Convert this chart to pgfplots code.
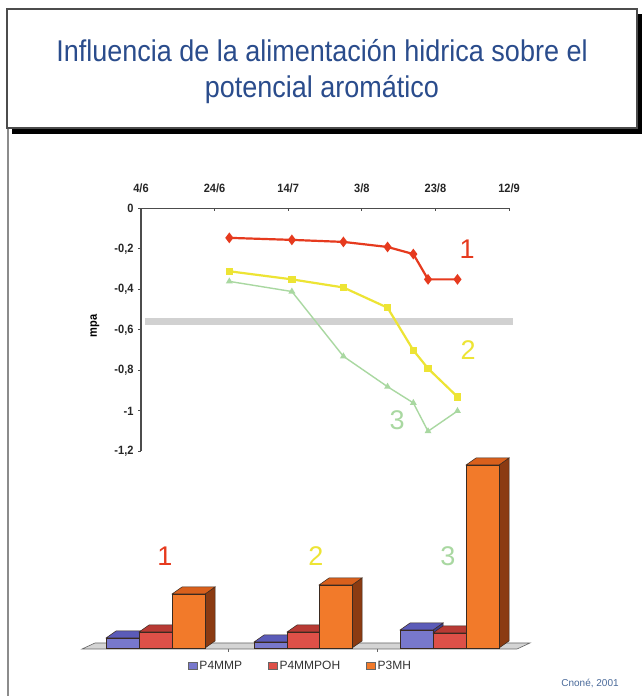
\documentclass[border=0pt]{standalone}
\usepackage{fontspec}
\setmainfont{Liberation Sans}
\newfontfamily\titlefont{Liberation Sans}[FakeStretch=0.9]
\newfontfamily\tickfont{Liberation Sans}[FakeStretch=0.92]
\usepackage{pgfplots}
\pgfplotsset{compat=1.18}
\definecolor{titleblue}{HTML}{2A4C8C}
\definecolor{cred}{HTML}{E63A1E}
\definecolor{cyel}{HTML}{EDE434}
\definecolor{cgreen}{HTML}{A9D8A1}
\definecolor{bluef}{HTML}{7878CC}
\definecolor{bluet}{HTML}{5B5BB8}
\definecolor{blues}{HTML}{3E3E90}
\definecolor{redf}{HTML}{DE5048}
\definecolor{redt}{HTML}{B83A34}
\definecolor{reds}{HTML}{8A2420}
\definecolor{oraf}{HTML}{F27A2A}
\definecolor{orat}{HTML}{D9601C}
\definecolor{oras}{HTML}{8B3B12}
\definecolor{barline}{HTML}{3A2A20}
\definecolor{floorc}{HTML}{D4D4D4}
\definecolor{srcblue}{HTML}{4A6A9A}
\newcommand\tdbar[5]{%
 \pgfmathsetmacro\xa{#1}%
 \pgfmathsetmacro\xb{#1+33}%
 \pgfmathsetmacro\xc{#1+43}%
 \pgfmathsetmacro\xd{#1+10}%
 \pgfmathsetmacro\yt{#2+7}%
 \edef\tmp{%
 \noexpand\addplot[forget plot, fill=#5, draw=barline, line width=0.5pt] coordinates {(\xb,0) (\xc,7) (\xc,\yt) (\xb,#2)} -- cycle;%
 \noexpand\addplot[forget plot, fill=#4, draw=barline, line width=0.5pt] coordinates {(\xa,#2) (\xb,#2) (\xc,\yt) (\xd,\yt)} -- cycle;%
 \noexpand\addplot[forget plot, fill=#3, draw=barline, line width=0.5pt] coordinates {(\xa,0) (\xb,0) (\xb,#2) (\xa,#2)} -- cycle;%
 }\tmp}
\begin{document}
\begin{tikzpicture}[x=1pt,y=1pt]
\useasboundingbox (0,0) rectangle (642,696);
\fill[white] (0,0) rectangle (642,696);
\draw[black!45, line width=1.2pt] (8,0) -- (8,568);
% title box
\fill[black] (12,562) rectangle (642,682);
\filldraw[fill=white, draw=black!70, line width=1.5pt] (7,568) rectangle (637,687);
\node[anchor=base, titleblue, font=\titlefont\fontsize{30}{36}\selectfont] at (322,634) {Influencia de la alimentación hidrica sobre el};
\node[anchor=base, titleblue, font=\titlefont\fontsize{30}{36}\selectfont] at (322,598) {potencial aromático};

% line chart
\begin{axis}[at={(141pt,244.5pt)}, anchor=south west, scale only axis,
  width=368pt, height=243pt,
  xmin=0, xmax=100, ymin=-1.2, ymax=0,
  axis x line=top, axis y line=left,
  axis line style={-, black!70, line width=1.2pt},
  tick align=inside, major tick length=3pt,
  tick style={black!70, line width=1pt},
  ytick style={xshift=-3pt},
  xtick={0,20,40,60,80,100},
  xticklabels={4/6,24/6,14/7,3/8,23/8,12/9},
  ytick={-1.2,-1,-0.8,-0.6,-0.4,-0.2,0},
  yticklabels={{-1,2},{-1},{-0,8},{-0,6},{-0,4},{-0,2},{0}},
  ticklabel style={font=\tickfont\bfseries\fontsize{12}{13}\selectfont, black!85},
  xticklabel style={yshift=12pt},
  yticklabel style={xshift=-4pt},
  ylabel={mpa},
  ylabel style={at={(axis description cs:-0.125,0.516)}, anchor=center, font=\tickfont\bfseries\fontsize{12}{13}\selectfont},
  clip=false]
\addplot[forget plot, black!18, line width=7pt] coordinates {(1,-0.556) (101,-0.556)};
\addplot[cgreen, line width=1.4pt, mark=triangle*, mark size=2.6pt] coordinates {
 (24,-0.36) (41,-0.41) (55,-0.73) (67,-0.88) (74,-0.96) (78,-1.10) (86,-1.00)};
\addplot[cyel, line width=2.2pt, mark=square*, mark size=2.6pt] coordinates {
 (24,-0.31) (41,-0.35) (55,-0.39) (67,-0.49) (74,-0.70) (78,-0.79) (86,-0.93)};
\addplot[cred, line width=2.2pt, mark=diamond*, mark size=3.6pt] coordinates {
 (24,-0.145) (41,-0.155) (55,-0.165) (67,-0.19) (74,-0.225) (78,-0.35) (86,-0.35)};
\node[cred, font=\fontsize{27}{30}\selectfont] at (axis cs:88.6,-0.2) {1};
\node[cyel, font=\fontsize{27}{30}\selectfont] at (axis cs:88.9,-0.70) {2};
\node[cgreen, font=\fontsize{27}{30}\selectfont] at (axis cs:69.6,-1.044) {3};
\end{axis}

% 3D bar chart
\begin{axis}[at={(0pt,48pt)}, anchor=origin, x=1pt, y=1pt,
  xmin=0, xmax=642, ymin=-50, ymax=200, hide axis, clip=false,
  legend columns=3,
  legend style={at={(axis description cs:0.288,0.128)}, anchor=west, draw=none, fill=none,
    font=\fontsize{12}{14}\selectfont, text=black!80,
    /tikz/every even column/.append style={column sep=24pt}},
  legend image code/.code={\draw[#1, draw=black!60] (0pt,-3.5pt) rectangle (9pt,3.5pt);}]
\addlegendimage{fill=bluef}
\addlegendentry{P4MMP}
\addlegendimage{fill=redf}
\addlegendentry{P4MMPOH}
\addlegendimage{fill=oraf}
\addlegendentry{P3MH}
\addplot[forget plot, fill=floorc, draw=black!60, line width=0.6pt] coordinates {(82,-1) (517,-1) (530,5) (95,5)} -- cycle;
\draw[black!60, line width=0.6pt] (axis cs:228,-1) -- (axis cs:228,-4);
\draw[black!60, line width=0.6pt] (axis cs:377,-1) -- (axis cs:377,-4);
% group 1
\tdbar{106}{10}{bluef}{bluet}{blues}
\tdbar{139}{16}{redf}{redt}{reds}
\tdbar{172}{54}{oraf}{orat}{oras}
% group 2
\tdbar{254}{6}{bluef}{bluet}{blues}
\tdbar{287}{16}{redf}{redt}{reds}
\tdbar{319}{63}{oraf}{orat}{oras}
% group 3
\tdbar{400}{18}{bluef}{bluet}{blues}
\tdbar{433}{15}{redf}{redt}{reds}
\tdbar{466}{183}{oraf}{orat}{oras}
\node[cred, font=\fontsize{27}{30}\selectfont] at (axis cs:165,92) {1};
\node[cyel, font=\fontsize{27}{30}\selectfont] at (axis cs:316,92) {2};
\node[cgreen, font=\fontsize{27}{30}\selectfont] at (axis cs:448,92) {3};
\end{axis}
\node[srcblue, font=\fontsize{10}{12}\selectfont] at (590,13) {Cnoné, 2001};
\end{tikzpicture}
\end{document}
